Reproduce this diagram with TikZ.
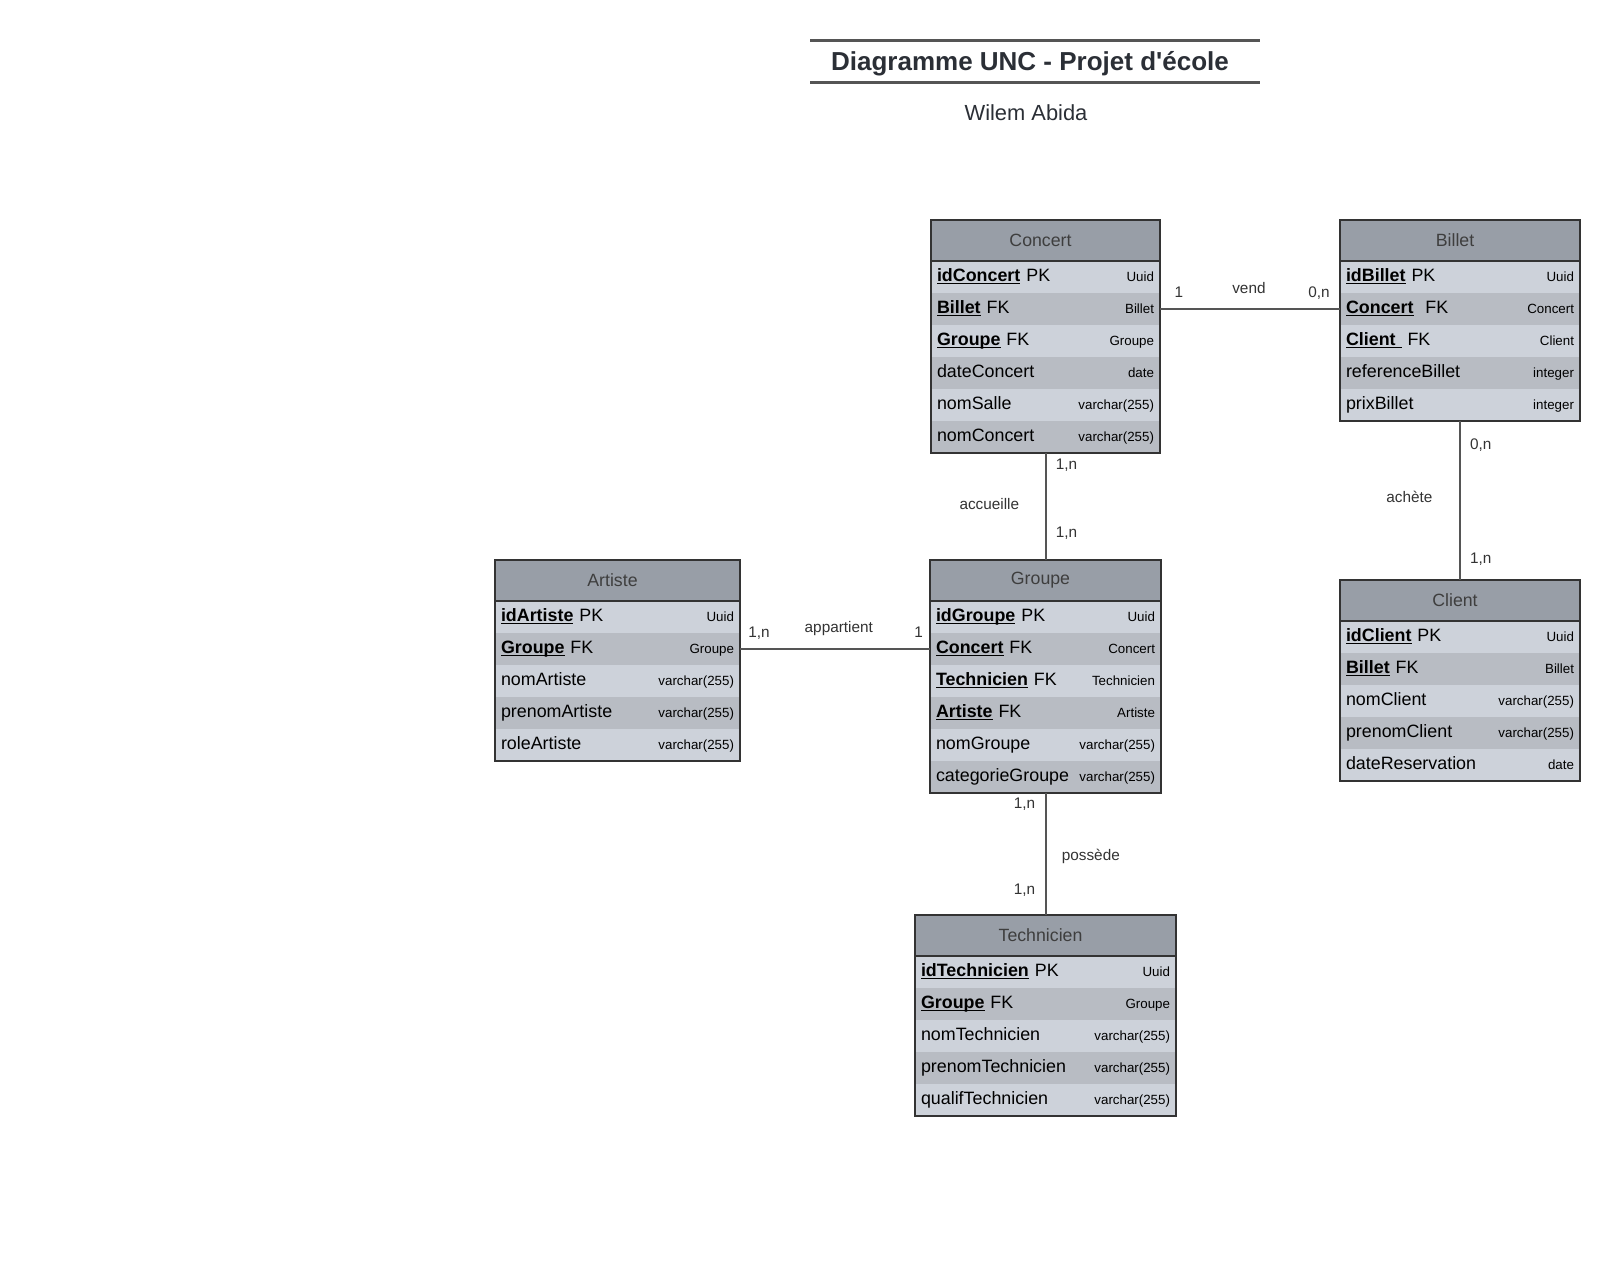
\documentclass[tikz,border=0pt]{standalone}
\usepackage{fontspec}
\setmainfont{Liberation Sans}
\usetikzlibrary{positioning}
\definecolor{enthead}{HTML}{989EA7}
\definecolor{rowlight}{HTML}{CDD2DA}
\definecolor{rowdark}{HTML}{B8BCC3}
\definecolor{entline}{HTML}{333333}
\definecolor{linkgray}{HTML}{555555}
\definecolor{titledark}{HTML}{2B2F36}
\definecolor{headtext}{HTML}{3E3E3E}
\newsavebox{\keybox}
\newcommand{\keyname}[1]{\sbox{\keybox}{\bfseries #1}\rlap{\rule[-1.9pt]{\wd\keybox}{0.9pt}}\usebox{\keybox}}
\newcommand{\coltype}[1]{{\fontsize{10}{12}\selectfont #1}}
\tikzset{
  entity/.style={fill=enthead, text=headtext, inner sep=0pt, outer sep=0pt, minimum height=30.75pt, font=\fontsize{13.3}{16}\selectfont, execute at end node=\hspace*{7.5pt}},
  entrow/.style={inner xsep=4.5pt, inner ysep=0pt, outer sep=0pt, minimum height=24pt, text height=10pt, text depth=3.5pt, align=left, font=\fontsize{13.4}{16}\selectfont},
  rowodd/.style={entrow, fill=rowlight},
  roweven/.style={entrow, fill=rowdark},
  frame/.style={entline, line width=0.9pt},
  headrule/.style={entline, line width=1.8pt},
  link/.style={linkgray, line width=1.5pt},
  card/.style={inner sep=0pt, text=black!80, font=\fontsize{11.5}{13}\selectfont},
}

\begin{document}
\begin{tikzpicture}[x=0.75pt, y=-0.75pt]
  % Page
  \fill[white] (0,0) rectangle (1620,1281);
  \useasboundingbox (0,0) rectangle (1620,1281);

  % Title block
  \draw[linkgray, line width=2.25pt] (810,41) -- (1260,41);
  \draw[linkgray, line width=2.25pt] (810,83) -- (1260,83);
  \node[text=titledark, font=\bfseries\fontsize{19.5}{22}\selectfont] (title) at (1030,64) {Diagramme UNC - Projet d\textquotesingle école};
  \node[text=titledark, font=\fontsize{16.4}{19}\selectfont] (author) at (1026,113) {Wilem Abida};

  % Concert
  \begin{scope}[every node/.append style={text width=162.75pt}]
    \node[entity, text width=, minimum width=171.75pt, anchor=north west] (concert) at (931,220) {Concert};
    \node[rowodd, below=0pt of concert] (concert-1) {\keyname{idConcert} PK\hfill\coltype{Uuid}};
    \node[roweven, below=0pt of concert-1] (concert-2) {\keyname{Billet} FK\hfill\coltype{Billet}};
    \node[rowodd, below=0pt of concert-2] (concert-3) {\keyname{Groupe} FK\hfill\coltype{Groupe}};
    \node[roweven, below=0pt of concert-3] (concert-4) {dateConcert\hfill\coltype{date}};
    \node[rowodd, below=0pt of concert-4] (concert-5) {nomSalle\hfill\coltype{varchar(255)}};
    \node[roweven, below=0pt of concert-5] (concert-6) {nomConcert\hfill\coltype{varchar(255)}};
  \end{scope}
  \draw[frame] (concert.north west) rectangle (concert-6.south east);
  \draw[headrule] (concert.south west) -- (concert.south east);

  % Billet
  \begin{scope}[every node/.append style={text width=171pt}]
    \node[entity, text width=, minimum width=180pt, anchor=north west] (billet) at (1340,220) {Billet};
    \node[rowodd, below=0pt of billet] (billet-1) {\keyname{idBillet} PK\hfill\coltype{Uuid}};
    \node[roweven, below=0pt of billet-1] (billet-2) {\keyname{Concert}~ FK\hfill\coltype{Concert}};
    \node[rowodd, below=0pt of billet-2] (billet-3) {\keyname{Client~}~FK\hfill\coltype{Client}};
    \node[roweven, below=0pt of billet-3] (billet-4) {referenceBillet\hfill\coltype{integer}};
    \node[rowodd, below=0pt of billet-4] (billet-5) {prixBillet\hfill\coltype{integer}};
  \end{scope}
  \draw[frame] (billet.north west) rectangle (billet-5.south east);
  \draw[headrule] (billet.south west) -- (billet.south east);

  % Artiste
  \begin{scope}[every node/.append style={text width=174.75pt}]
    \node[entity, text width=, minimum width=183.75pt, anchor=north west] (artiste) at (495,560) {Artiste};
    \node[rowodd, below=0pt of artiste] (artiste-1) {\keyname{idArtiste} PK\hfill\coltype{Uuid}};
    \node[roweven, below=0pt of artiste-1] (artiste-2) {\keyname{Groupe} FK\hfill\coltype{Groupe}};
    \node[rowodd, below=0pt of artiste-2] (artiste-3) {nomArtiste\hfill\coltype{varchar(255)}};
    \node[roweven, below=0pt of artiste-3] (artiste-4) {prenomArtiste\hfill\coltype{varchar(255)}};
    \node[rowodd, below=0pt of artiste-4] (artiste-5) {roleArtiste\hfill\coltype{varchar(255)}};
  \end{scope}
  \draw[frame] (artiste.north west) rectangle (artiste-5.south east);
  \draw[headrule] (artiste.south west) -- (artiste.south east);

  % Groupe
  \begin{scope}[every node/.append style={text width=164.25pt}]
    \node[entity, text width=, minimum width=173.25pt, anchor=north west] (groupe) at (930,560) {Groupe};
    \node[rowodd, below=0pt of groupe] (groupe-1) {\keyname{idGroupe} PK\hfill\coltype{Uuid}};
    \node[roweven, below=0pt of groupe-1] (groupe-2) {\keyname{Concert} FK\hfill\coltype{Concert}};
    \node[rowodd, below=0pt of groupe-2] (groupe-3) {\keyname{Technicien} FK\hfill\coltype{Technicien}};
    \node[roweven, below=0pt of groupe-3] (groupe-4) {\keyname{Artiste} FK\hfill\coltype{Artiste}};
    \node[rowodd, below=0pt of groupe-4] (groupe-5) {nomGroupe\hfill\coltype{varchar(255)}};
    \node[roweven, below=0pt of groupe-5] (groupe-6) {categorieGroupe\hfill\coltype{varchar(255)}};
  \end{scope}
  \draw[frame] (groupe.north west) rectangle (groupe-6.south east);
  \draw[headrule] (groupe.south west) -- (groupe.south east);

  % Client
  \begin{scope}[every node/.append style={text width=171pt}]
    \node[entity, text width=, minimum width=180pt, anchor=north west] (client) at (1340,580) {Client};
    \node[rowodd, below=0pt of client] (client-1) {\keyname{idClient} PK\hfill\coltype{Uuid}};
    \node[roweven, below=0pt of client-1] (client-2) {\keyname{Billet} FK\hfill\coltype{Billet}};
    \node[rowodd, below=0pt of client-2] (client-3) {nomClient\hfill\coltype{varchar(255)}};
    \node[roweven, below=0pt of client-3] (client-4) {prenomClient\hfill\coltype{varchar(255)}};
    \node[rowodd, below=0pt of client-4] (client-5) {dateReservation\hfill\coltype{date}};
  \end{scope}
  \draw[frame] (client.north west) rectangle (client-5.south east);
  \draw[headrule] (client.south west) -- (client.south east);

  % Technicien
  \begin{scope}[every node/.append style={text width=186.75pt}]
    \node[entity, text width=, minimum width=195.75pt, anchor=north west] (technicien) at (915,915) {Technicien};
    \node[rowodd, below=0pt of technicien] (technicien-1) {\keyname{idTechnicien} PK\hfill\coltype{Uuid}};
    \node[roweven, below=0pt of technicien-1] (technicien-2) {\keyname{Groupe} FK\hfill\coltype{Groupe}};
    \node[rowodd, below=0pt of technicien-2] (technicien-3) {nomTechnicien\hfill\coltype{varchar(255)}};
    \node[roweven, below=0pt of technicien-3] (technicien-4) {prenomTechnicien\hfill\coltype{varchar(255)}};
    \node[rowodd, below=0pt of technicien-4] (technicien-5) {qualifTechnicien\hfill\coltype{varchar(255)}};
  \end{scope}
  \draw[frame] (technicien.north west) rectangle (technicien-5.south east);
  \draw[headrule] (technicien.south west) -- (technicien.south east);

  % Associations
  \draw[link] (concert-2.east) --
    node[card, pos=.105, anchor=base, yshift=9pt] (vend-a) {1}
    node[card, pos=.494, anchor=base, yshift=12pt] (vend) {vend}
    node[card, pos=.883, anchor=base, yshift=9pt] (vend-b) {0,n} (billet-2.west);
  \draw[link] (artiste-2.east) --
    node[card, pos=.1, anchor=base, yshift=9pt] (appartient-a) {1,n}
    node[card, pos=.52, anchor=base, yshift=12.5pt] (appartient) {appartient}
    node[card, pos=.94, anchor=base, yshift=9pt] (appartient-b) {1} (groupe-2.west);
  \draw[link] (concert-6.south) --
    node[card, pos=.11, anchor=west, xshift=7pt] (accueille-a) {1,n}
    node[card, pos=.48, anchor=east, xshift=-19pt] (accueille) {accueille}
    node[card, pos=.75, anchor=west, xshift=7pt] (accueille-b) {1,n} (groupe.north);
  \draw[link] (billet-5.south) --
    node[card, pos=.15, anchor=west, xshift=6.75pt] (achete-a) {0,n}
    node[card, pos=.48, anchor=east, xshift=-20pt] (achete) {achète}
    node[card, pos=.87, anchor=west, xshift=6.75pt] (achete-b) {1,n} (client.north);
  \draw[link] (groupe-6.south) --
    node[card, pos=.09, anchor=east, xshift=-7pt] (possede-a) {1,n}
    node[card, pos=.52, anchor=west, xshift=11.5pt] (possede) {possède}
    node[card, pos=.80, anchor=east, xshift=-7pt] (possede-b) {1,n} (technicien.north);
\end{tikzpicture}
\end{document}
